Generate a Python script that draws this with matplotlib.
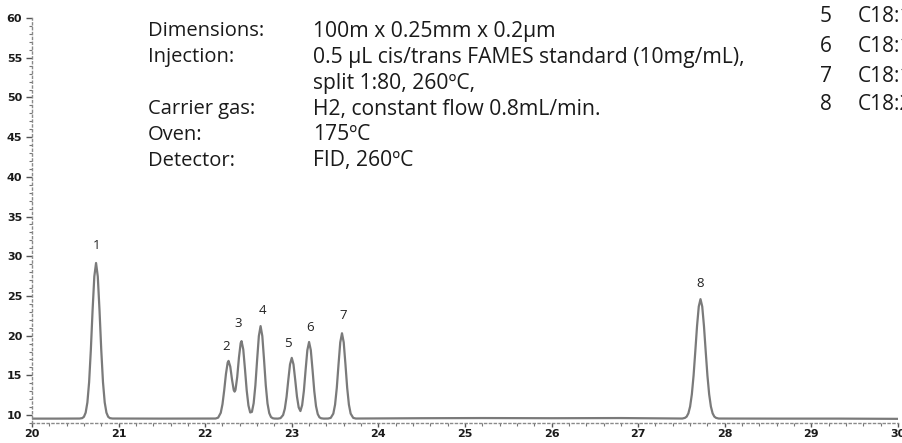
import matplotlib
matplotlib.use('Agg')
import matplotlib.pyplot as plt
from matplotlib.ticker import MultipleLocator

# retention time (min) and detector signal
rt = [20.00, 20.30, 20.55, 20.58, 20.60, 20.62, 20.64, 20.66, 20.68, 20.70, 20.72,
      20.74, 20.76, 20.78, 20.80, 20.82, 20.84, 20.86, 20.88, 20.90, 20.93,
      21.50, 22.12,
      22.15, 22.18, 22.20, 22.22, 22.24, 22.26, 22.27, 22.29, 22.31, 22.33,
      22.34, 22.35, 22.37, 22.39, 22.41, 22.42, 22.44, 22.46, 22.48, 22.50,
      22.52, 22.54, 22.56, 22.58, 22.60, 22.62, 22.64, 22.66, 22.68, 22.70,
      22.72, 22.74, 22.76, 22.78, 22.80, 22.84, 22.87, 22.90, 22.92, 22.94,
      22.96, 22.98, 23.00, 23.02, 23.04, 23.06, 23.08, 23.10, 23.12, 23.14,
      23.16, 23.18, 23.20, 23.22, 23.24, 23.26, 23.28, 23.30, 23.32, 23.34,
      23.37, 23.42, 23.45, 23.48, 23.50, 23.52, 23.54, 23.56, 23.58, 23.60,
      23.62, 23.64, 23.66, 23.68, 23.71, 23.74, 24.50, 25.20, 26.00, 26.80,
      27.51, 27.54, 27.56, 27.58, 27.60, 27.62, 27.64, 27.66, 27.68, 27.70,
      27.72, 27.74, 27.76, 27.78, 27.80, 27.82, 27.84, 27.86, 27.88, 27.90,
      27.93, 28.60, 29.30, 30.00]
signal = [9.55, 9.55, 9.56, 9.61, 9.78, 10.30, 11.59, 14.15, 18.23, 23.20, 27.45,
          29.15, 27.45, 23.20, 18.23, 14.15, 11.59, 10.30, 9.78, 9.61, 9.56,
          9.55, 9.56,
          9.67, 10.28, 11.36, 13.12, 15.17, 16.61, 16.82, 16.10, 14.47, 13.14,
          12.95, 13.16, 14.78, 17.23, 19.06, 19.31, 18.26, 15.74, 13.07, 11.19,
          10.32, 10.40, 11.49, 13.75, 16.95, 19.95, 21.20, 19.95, 16.95, 13.74,
          11.45, 10.24, 9.75, 9.60, 9.56, 9.55, 9.61, 10.00, 10.80, 12.30,
          14.41, 16.38, 17.20, 16.38, 14.42, 12.34, 10.96, 10.50, 11.25, 13.05,
          15.69, 18.17, 19.20, 18.17, 15.68, 13.02, 11.12, 10.12, 9.71, 9.59,
          9.55, 9.56, 9.64, 10.18, 11.30, 13.42, 16.38, 19.15, 20.30, 19.15,
          16.38, 13.42, 11.30, 10.18, 9.64, 9.56, 9.60, 9.62, 9.60, 9.62,
          9.56, 9.64, 9.80, 10.21, 11.07, 12.61, 14.97, 18.03, 21.21, 23.67,
          24.60, 23.67, 21.21, 18.03, 14.97, 12.61, 11.07, 10.21, 9.80, 9.64,
          9.56, 9.55, 9.55, 9.52]

peak_ids = ['1', '2', '3', '4', '5', '6', '7', '8']
peak_rt = [20.74, 22.24, 22.38, 22.66, 22.96, 23.21, 23.59, 27.72]
peak_label_y = [31.3, 18.6, 21.5, 23.2, 19.0, 21.0, 22.5, 26.6]

cond_names = ['Dimensions:', 'Injection:', '', 'Carrier gas:', 'Oven:', 'Detector:']
cond_values = ['100m x 0.25mm x 0.2µm',
               '0.5 µL cis/trans FAMES standard (10mg/mL),',
               'split 1:80, 260ºC,',
               'H2, constant flow 0.8mL/min.',
               '175ºC',
               'FID, 260ºC']

legend_ids = ['5', '6', '7', '8']
legend_names = ['C18:1', 'C18:1', 'C18:1', 'C18:2']

fig = plt.figure(figsize=(9.03, 4.43), dpi=100)
ax = fig.add_axes([0.0354, 0.0452, 0.959, 0.9176])

ax.plot(rt, signal, color='#7a7a7a', linewidth=1.6)

for pid, x, y in zip(peak_ids, peak_rt, peak_label_y):
    ax.text(x, y, pid, ha='center', va='center', fontsize=9.5,
            family='Open Sans', color='#222222')

ax.set_xlim(20, 30)
ax.set_ylim(9.0, 60.2)
ax.xaxis.set_major_locator(MultipleLocator(1))
ax.xaxis.set_minor_locator(MultipleLocator(0.2))
ax.yaxis.set_major_locator(MultipleLocator(5))
ax.yaxis.set_minor_locator(MultipleLocator(1))
ax.set_yticks(range(10, 61, 5))

for side in ['top', 'right']:
    ax.spines[side].set_visible(False)
for side in ['left', 'bottom']:
    ax.spines[side].set_color('#8a8a8a')
    ax.spines[side].set_linestyle((0, (1.5, 2)))
    ax.spines[side].set_linewidth(1.0)
ax.spines['left'].set_bounds(9.0, 60)

ax.tick_params(which='major', length=4, width=1, color='#555555')
ax.tick_params(which='minor', length=2, width=0.8, color='#777777')
ax.tick_params(axis='x', which='major', length=3, pad=1)
ax.tick_params(axis='y', which='major', pad=3)
for lab in ax.get_xticklabels() + ax.get_yticklabels():
    lab.set_family('DejaVu Sans')
    lab.set_fontweight('heavy')
    lab.set_fontsize(8)
    lab.set_color('#1a1a1a')

row_y = [31, 57, 83, 109, 135, 161]
for name, val, py in zip(cond_names, cond_values, row_y):
    fy = 1 - py / 443
    fig.text(148 / 903, fy, name, ha='left', va='center', fontsize=14.5,
             family='Open Sans', color='#1a1a1a')
    fig.text(313 / 903, fy, val, ha='left', va='center', fontsize=15.2,
             family='Open Sans', color='#1a1a1a')

leg_y = [17, 47, 76, 105]
for pid, name, py in zip(legend_ids, legend_names, leg_y):
    fy = 1 - py / 443
    fig.text(820 / 903, fy, pid, ha='left', va='center', fontsize=15,
             family='Open Sans', color='#1a1a1a')
    fig.text(858 / 903, fy, name, ha='left', va='center', fontsize=15,
             family='Open Sans', color='#1a1a1a')

fig.savefig('out.png', dpi=100)
